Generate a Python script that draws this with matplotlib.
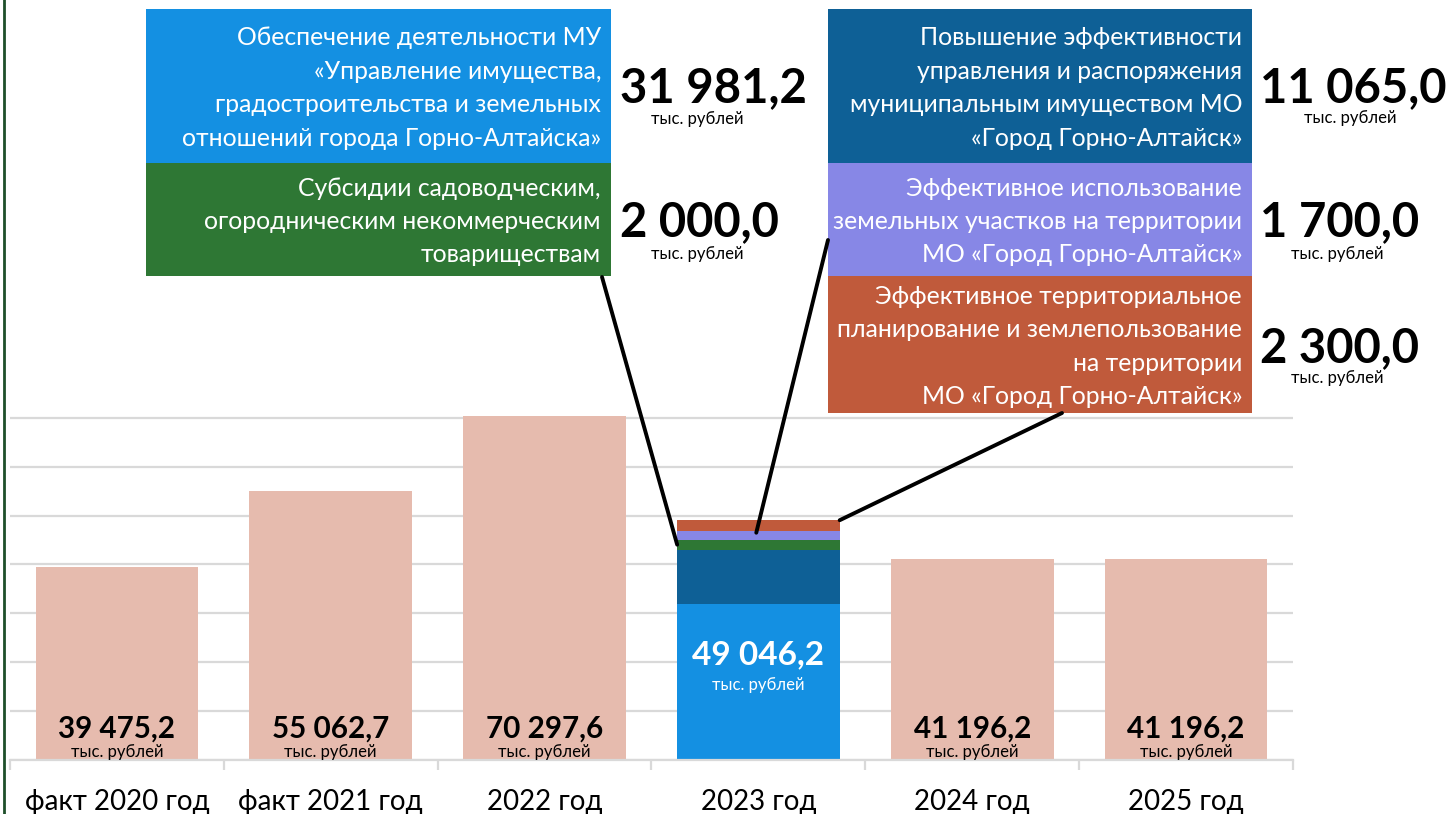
import matplotlib
matplotlib.use('Agg')
import matplotlib.pyplot as plt
from matplotlib.patches import Rectangle, ConnectionPatch
from matplotlib.lines import Line2D

plt.rcParams['font.family'] = ['Lato', 'Roboto', 'DejaVu Sans']

# data
years = ['факт 2020 год', 'факт 2021 год', '2022 год', '2023 год', '2024 год', '2025 год']
totals = [39475.2, 55062.7, 70297.6, 49046.2, 41196.2, 41196.2]
stack_year = 3

# 2023 split by programme (bottom to top)
part_names = [
    'Обеспечение деятельности МУ\n«Управление имущества,\nградостроительства и земельных\nотношений города Горно-Алтайска»',
    'Повышение эффективности\nуправления и распоряжения\nмуниципальным имуществом МО\n«Город Горно-Алтайск»',
    'Субсидии садоводческим,\nогородническим некоммерческим\nтовариществам',
    'Эффективное использование\nземельных участков на территории\nМО «Город Горно-Алтайск»',
    'Эффективное территориальное\nпланирование и землепользование\nна территории\nМО «Город Горно-Алтайск»',
]
part_values = [31981.2, 11065.0, 2000.0, 1700.0, 2300.0]
part_colors = ['#1490E2', '#0E6096', '#2E7734', '#8787E6', '#C05A3B']
unit = 'тыс. рублей'


def fmt(v):
    return f'{v:,.1f}'.replace(',', ' ').replace('.', ',')


W, H = 1449, 814
fig = plt.figure(figsize=(W / 100, H / 100), dpi=100)

# main axes, pixel layout
ax = fig.add_axes([10 / W, (H - 760) / H, 1283 / W, 352 / H])
ax.set_xlim(-0.5, len(years) - 0.5)
ax.set_ylim(0, 72000)
ax.set_yticks(range(0, 70001, 10000))
ax.grid(axis='y', color='#D9D9D9', lw=1.6)
ax.set_axisbelow(True)
ax.tick_params(axis='y', left=False, labelleft=False)
for s in ['left', 'right', 'top']:
    ax.spines[s].set_visible(False)
ax.spines['bottom'].set_color('#D9D9D9')
ax.spines['bottom'].set_linewidth(1.6)

ax.set_xticks(range(len(years)))
ax.set_xticklabels(years, fontsize=20)
ax.set_xticks([i - 0.5 for i in range(len(years) + 1)], minor=True)
ax.tick_params(axis='x', which='major', length=0, pad=21)
ax.tick_params(axis='x', which='minor', length=7.5, width=1.6, color='#D9D9D9')

bar_w = 0.76
plain = [i for i in range(len(years)) if i != stack_year]
ax.bar(plain, [totals[i] for i in plain], width=bar_w, color='#E6BBAE', clip_on=False)

bottoms = []
b = 0
for v, c in zip(part_values, part_colors):
    ax.bar(stack_year, v, bottom=b, width=bar_w, color=c)
    bottoms.append(b)
    b += v

# value labels on bars
for i in plain:
    ax.annotate(fmt(totals[i]), (i, 0), xytext=(0, 22.5), textcoords='offset points',
                ha='center', va='center', fontsize=21.3, fontweight='bold', color='black')
    ax.annotate(unit, (i, 0), xytext=(0, 6), textcoords='offset points',
                ha='center', va='center', fontsize=12, color='black')
ax.annotate(fmt(totals[stack_year]), (stack_year, 0), xytext=(0, 75.5), textcoords='offset points',
            ha='center', va='center', fontsize=24, fontweight='bold', color='white')
ax.annotate(unit, (stack_year, 0), xytext=(0, 54), textcoords='offset points',
            ha='center', va='center', fontsize=12, color='white')

# overlay in pixel coordinates for the callout boxes
ov = fig.add_axes([0, 0, 1, 1])
ov.set_xlim(0, W)
ov.set_ylim(H, 0)
ov.axis('off')

# box rect (x0, y0, x1, y1), value x, value y, unit x, unit y
boxes = [
    ((146, 9, 611, 163), 620, 88, 697, 119),
    ((828, 9, 1252, 163), 1260, 88, 1350, 118),
    ((146, 163, 611, 276), 620, 222, 697, 254),
    ((828, 163, 1252, 276), 1260, 222, 1337, 254),
    ((828, 276, 1252, 413), 1260, 348, 1337, 378),
]
for (rect, vx, vy, ux, uy), name, val, col in zip(boxes, part_names, part_values, part_colors):
    x0, y0, x1, y1 = rect
    ov.add_patch(Rectangle((x0, y0), x1 - x0, y1 - y0, color=col, lw=0))
    ov.text(x1 - 10, (y0 + y1) / 2 + 2, name, ha='right', va='center', multialignment='right',
            fontsize=17.8, color='white', linespacing=1.55)
    ov.text(vx, vy, fmt(val), ha='left', va='center', fontsize=34, fontweight='bold')
    ov.text(ux, uy, unit, ha='center', va='center', fontsize=12)

# leader lines from boxes to 2023 segments
leaders = [
    (2, (602, 277), -bar_w / 2, 0.5),
    (3, (828, 240), -0.01, 0.85),
    (4, (1062, 413), bar_w / 2, 1.0),
]
for k, start, dx, frac in leaders:
    end = (stack_year + dx, bottoms[k] + frac * part_values[k])
    con = ConnectionPatch(xyA=start, coordsA=ov.transData, xyB=end, coordsB=ax.transData,
                          color='black', lw=2.8)
    fig.add_artist(con)

# dark green frame line on the left
fig.add_artist(Line2D([3.5 / W, 3.5 / W], [0, 1], color='#1E4F2A', lw=2))

fig.savefig('out.png', dpi=100)
